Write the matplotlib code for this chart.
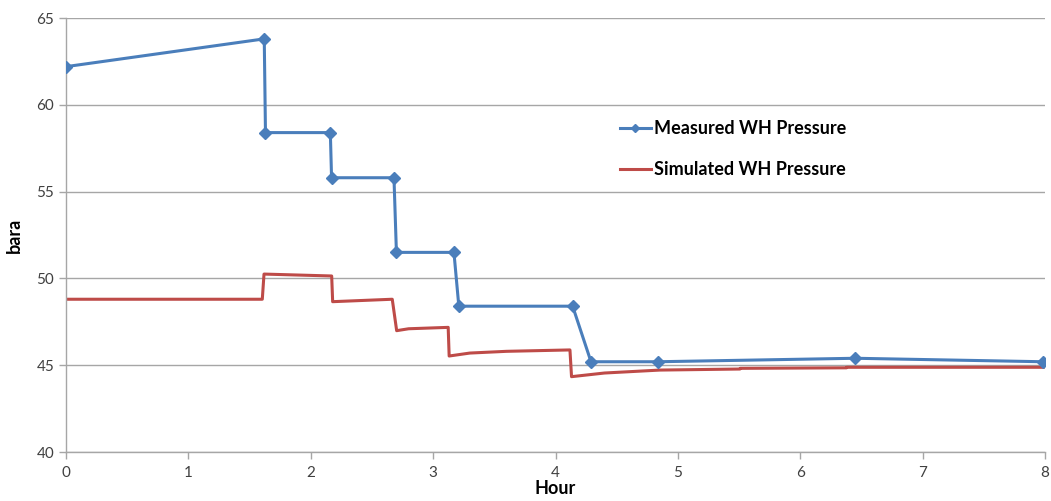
import matplotlib.pyplot as plt

plt.rcParams['font.family'] = ['Lato', 'DejaVu Sans']

# measured wellhead pressure (bara) vs time (hours)
meas_hour = [0.0, 1.62, 1.63, 2.16, 2.17, 2.68, 2.70, 3.17, 3.21, 4.14, 4.29, 4.84, 6.45, 7.98]
meas_bara = [62.2, 63.8, 58.4, 58.4, 55.8, 55.8, 51.5, 51.5, 48.4, 48.4, 45.2, 45.2, 45.4, 45.2]

# simulated wellhead pressure from the transient model
sim_hour = [0.0, 1.604, 1.618, 2.171, 2.179, 2.666, 2.702, 2.80, 3.123,
            3.131, 3.30, 3.60, 4.118, 4.131, 4.40, 4.853, 5.507, 5.51,
            6.378, 6.38, 7.985]
sim_bara = [48.80, 48.80, 50.25, 50.14, 48.66, 48.80, 46.99, 47.10, 47.18,
            45.53, 45.70, 45.80, 45.88, 44.34, 44.55, 44.72, 44.78, 44.82,
            44.85, 44.88, 44.88]

blue = '#4A7EBB'
red = '#BE4B48'
grid_col = '#A6A6A6'
text_col = '#404040'

fig = plt.figure(figsize=(10.51, 5.01), dpi=100)
ax = fig.add_axes([0.0628, 0.0978, 0.9315, 0.8662])

ax.plot(meas_hour, meas_bara, color=blue, lw=2.2, marker='D', ms=6.5,
        label='Measured WH Pressure', zorder=3)
ax.plot(sim_hour, sim_bara, color=red, lw=2.2, label='Simulated WH Pressure', zorder=2)

ax.set_xlim(0, 8)
ax.set_ylim(40, 65)
ax.set_xticks(range(0, 9))
ax.set_yticks(range(40, 66, 5))
ax.yaxis.grid(True, color=grid_col, lw=1)
ax.set_axisbelow(True)

for side in ['top', 'right']:
    ax.spines[side].set_visible(False)
for side in ['left', 'bottom']:
    ax.spines[side].set_color(grid_col)
    ax.spines[side].set_linewidth(1)

ax.tick_params(axis='both', colors=grid_col, labelcolor=text_col, labelsize=11,
               length=5, width=1, direction='out')
ax.tick_params(axis='x', pad=5)

ax.set_xlabel('Hour', fontsize=13, fontweight='bold', color='black', labelpad=0)
ax.set_ylabel('bara', fontsize=13, fontweight='bold', color='black', labelpad=10)

ax.legend(loc='center left', bbox_to_anchor=(0.566, 0.698), frameon=False,
          prop={'weight': 'bold', 'size': 13}, borderpad=0, borderaxespad=0,
          handlelength=1.7, handletextpad=0.2, labelspacing=1.3, markerscale=0.7)

fig.savefig('out.png', dpi=100)
